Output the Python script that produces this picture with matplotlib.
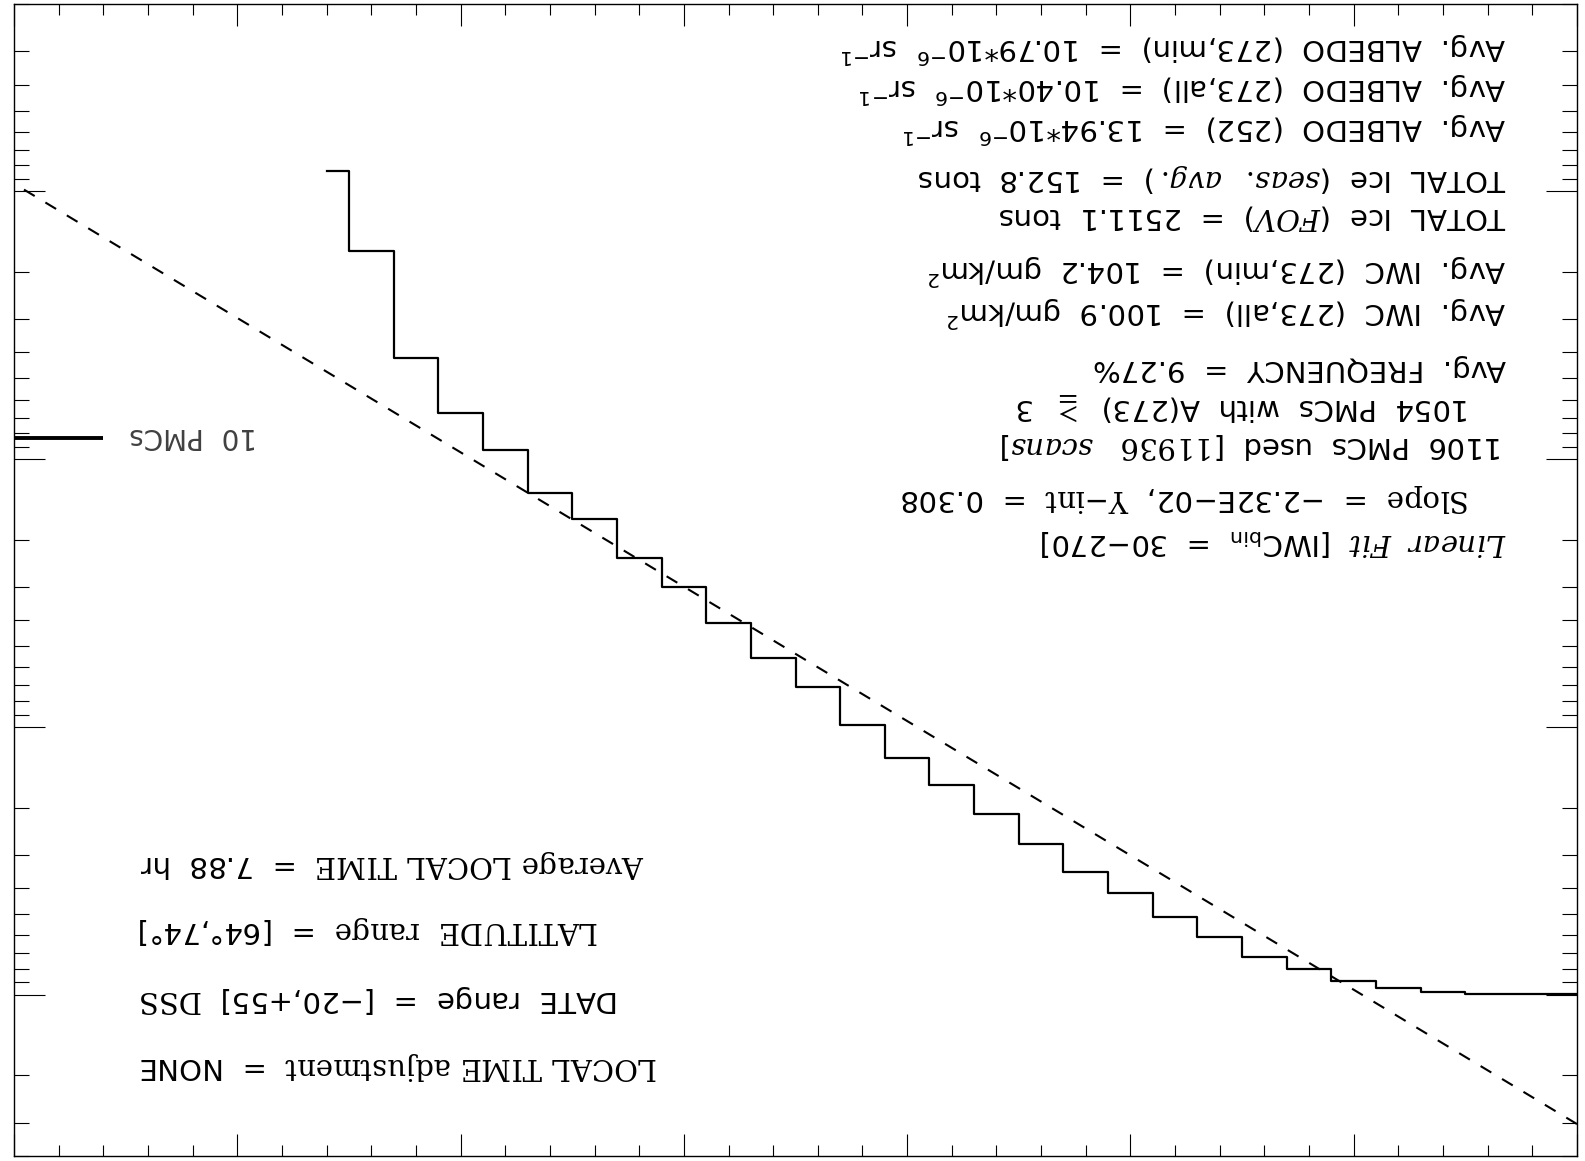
import numpy as np
import matplotlib
matplotlib.use("Agg")
import matplotlib.pyplot as plt
from matplotlib.ticker import MultipleLocator, LogLocator, NullFormatter

# cumulative PMC distribution vs IWC bin
iwc_bin = np.arange(280, -1, -10)
pmc_dist = [0.839, 1.675, 4.18, 6.71, 9.22, 13.4, 16.8, 23.4, 30.1, 41.0,
            55.1, 71.1, 98.6, 131, 165, 212, 273, 347, 417, 512,
            609, 722, 804, 885, 944, 979, 991, 991, 991]

# linear fit (log scale) - dashed line
fit_slope = -0.0231
fit_y0 = 3040.
fit_x = np.array([0., 350.])
fit_y = fit_y0 * np.exp(fit_slope * fit_x)

# "10 PMCs" scale marker
pmc10_x = [350, 330]
pmc10_y = [8.37, 8.37]

stats_lines = [
    r"Avg. ALBEDO (273,min) = 10.79*10$^{\mathsf{-6}}$ sr$^{\mathsf{-1}}$",
    r"Avg. ALBEDO (273,all) = 10.40*10$^{\mathsf{-6}}$ sr$^{\mathsf{-1}}$",
    r"Avg. ALBEDO (252) = 13.94*10$^{\mathsf{-6}}$ sr$^{\mathsf{-1}}$",
    r"TOTAL Ice ($\mathit{seas.\ \ avg.}$) = 152.8 tons",
    r"TOTAL Ice ($\mathit{FOV}$) = 2511.1 tons",
    r"Avg. IWC (273,min) = 104.2 gm/km$^{\mathsf{2}}$",
    r"Avg. IWC (273,all) = 100.9 gm/km$^{\mathsf{2}}$",
    "Avg. FREQUENCY = 9.27%",
    r"1054 PMCs with A(273) $\geqq$ 3",
    r"1106 PMCs used [$\mathit{11936\ \ \ scans}$]",
    r"$\mathrm{Slope}$ = −2.32E−02, $\mathrm{Y}$−$\mathrm{int}$ = 0.308",
    r"$\mathit{Linear\ \ Fit}$ [IWC$_{\mathsf{bin}}$ = 30−270]",
]
stats_x = [1506, 1506, 1506, 1506, 1506, 1506, 1506, 1506, 1470, 1503, 1470, 1506]
stats_y = [48, 88, 128, 180, 219, 271, 313, 370, 409, 448, 500, 544]

info_lines = [
    r"$\mathrm{Average\ LOCAL\ TIME}$ = 7.88 hr",
    r"$\mathrm{LATITUDE\ \ range}$ = [64°,74°]",
    r"DATE range = [−20,+55] $\mathrm{DSS}$",
    r"$\mathrm{LOCAL\ TIME\ adjustment}$ = NONE",
]
info_y = [866, 932, 1001, 1069]

plt.rcParams['mathtext.fontset'] = 'custom'
plt.rcParams['mathtext.rm'] = 'DejaVu Serif'
plt.rcParams['mathtext.it'] = 'DejaVu Serif:italic'
plt.rcParams['mathtext.sf'] = 'DejaVu Sans'
plt.rcParams['font.family'] = 'DejaVu Sans'

W, H = 1585, 1161
fig = plt.figure(figsize=(W / 100, H / 100), dpi=100)
ax = fig.add_axes([14 / W, 5 / H, 1563 / W, 1152 / H])

ax.step(iwc_bin, pmc_dist, where='mid', color='black', lw=1.6)
ax.plot(fit_x, fit_y, color='black', lw=1.5, dashes=(6, 6))
ax.plot(pmc10_x, pmc10_y, color='black', lw=2.8, solid_capstyle='butt')

# whole plot is drawn upside down
ax.set_yscale('log')
ax.set_xlim(350, 0)
ax.set_ylim(4000, 0.2)

ax.xaxis.set_major_locator(MultipleLocator(50))
ax.xaxis.set_minor_locator(MultipleLocator(10))
ax.yaxis.set_major_locator(LogLocator(base=10))
ax.yaxis.set_minor_locator(LogLocator(base=10, subs=np.arange(2, 10)))
ax.yaxis.set_minor_formatter(NullFormatter())
ax.tick_params(which='both', direction='in', top=True, right=True,
               labelbottom=False, labelleft=False, width=0.8, color='black')
ax.tick_params(axis='x', which='major', length=16)
ax.tick_params(axis='x', which='minor', length=8)
ax.tick_params(axis='y', which='major', length=22)
ax.tick_params(axis='y', which='minor', length=11)
for s in ax.spines.values():
    s.set_linewidth(1.0)


def to_ax(px, py):
    return (px - 14) / 1563., 1 - (py - 4) / 1152.


def wide(s):
    # hershey-like plots have wide word gaps
    return s.replace(' ', '  ')


fs = 21
for txt, px, py in zip(stats_lines, stats_x, stats_y):
    x, y = to_ax(px, py - 10.5)
    ax.text(x, y, wide(txt), transform=ax.transAxes, rotation=180,
            rotation_mode='anchor', ha='left', va='baseline', fontsize=fs)

for txt, py in zip(info_lines, info_y):
    x, y = to_ax(139, py - 10.5)
    ax.text(x, y, wide(txt), transform=ax.transAxes, rotation=180,
            rotation_mode='anchor', ha='right', va='baseline', fontsize=fs)

x, y = to_ax(257, 438 - 10)
ax.text(x, y, wide("10 PMCs"), transform=ax.transAxes, rotation=180,
        rotation_mode='anchor', ha='left', va='baseline', fontsize=20,
        color='#404040')

fig.savefig("out.png", dpi=100)
